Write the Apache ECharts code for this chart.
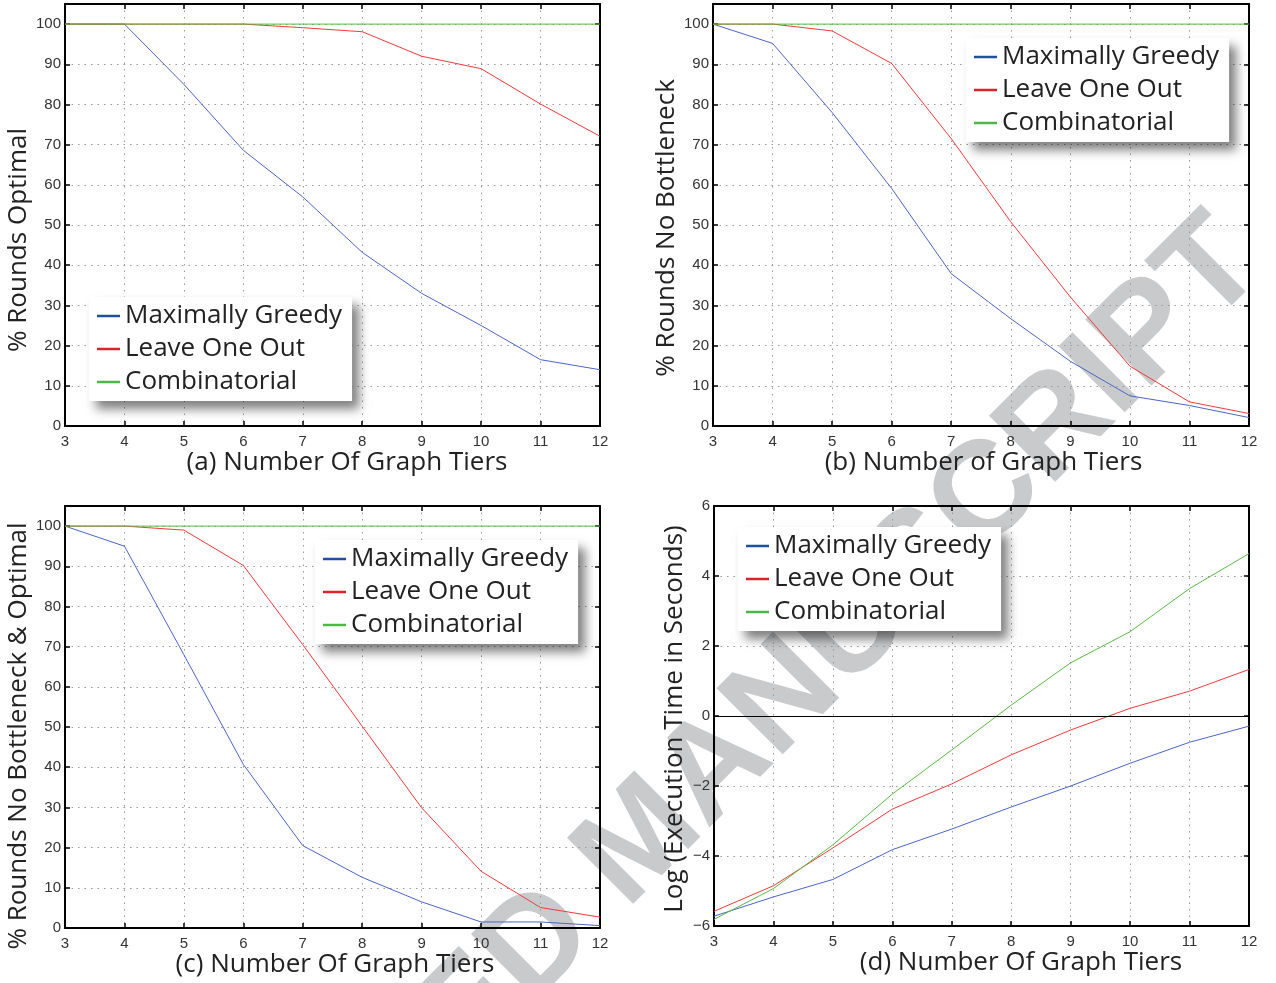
<!DOCTYPE html>
<html><head><meta charset="utf-8">
<script src="https://cdn.jsdelivr.net/npm/echarts@6/dist/echarts.min.js"></script>
<style>html,body{margin:0;padding:0;background:#fff}#c{width:1276px;height:983px}</style>
</head><body><div id="c"></div>
<script>
// ---- data ----
const tiers = [3, 4, 5, 6, 7, 8, 9, 10, 11, 12];
const seriesNames = ['Maximally Greedy', 'Leave One Out', 'Combinatorial'];

const optimalGreedy = [100, 100, 85, 68.6, 57, 43.2, 33, 25, 16.5, 14];
const optimalLeave  = [100, 100, 100, 100, 99.1, 98.1, 92, 88.9, 80.1, 72.1];
const optimalComb   = [100, 100, 100, 100, 100, 100, 100, 100, 100, 100];

const noBottleGreedy = [100, 95.2, 78, 59.1, 37.9, 26.7, 16.1, 7.5, 5.1, 2.1];
const noBottleLeave  = [100, 100, 98.3, 90.2, 71.5, 50.8, 32.1, 14.9, 6, 3.1];
const noBottleComb   = [100, 100, 100, 100, 100, 100, 100, 100, 100, 100];

const bothGreedy = [100, 95, 68, 40.7, 20.5, 12.6, 6.5, 1.5, 1.5, 0.6];
const bothLeave  = [100, 100, 99, 90.2, 70.5, 50.2, 29.9, 14.1, 5.1, 2.7];
const bothComb   = [100, 100, 100, 100, 100, 100, 100, 100, 100, 100];

const timeGreedy = [-5.72, -5.17, -4.67, -3.82, -3.23, -2.6, -2.0, -1.35, -0.75, -0.29];
const timeLeave  = [-5.58, -4.85, -3.77, -2.66, -1.94, -1.11, -0.4, 0.22, 0.71, 1.33];
const timeComb   = [-5.81, -4.93, -3.68, -2.23, -0.97, 0.31, 1.52, 2.41, 3.64, 4.64];

const xTitles = ['(a) Number Of Graph Tiers', '(b) Number of Graph Tiers', '(c) Number Of Graph Tiers', '(d) Number Of Graph Tiers'];
const yTitles = ['% Rounds Optimal', '% Rounds No Bottleneck', '% Rounds No Bottleneck & Optimal', 'Log (Execution Time in Seconds)'];
const watermark = 'ACCEPTED MANUSCRIPT';

// ---- layout / style ----
const panelData = [
  [optimalGreedy, optimalLeave, optimalComb],
  [noBottleGreedy, noBottleLeave, noBottleComb],
  [bothGreedy, bothLeave, bothComb],
  [timeGreedy, timeLeave, timeComb]
];
const grids = [
  {left: 65, top: 4, width: 535, height: 422},
  {left: 713, top: 4, width: 536, height: 422},
  {left: 65, top: 506, width: 535, height: 422},
  {left: 714, top: 506, width: 535, height: 420}
];
const yRanges = [
  {min: 0, max: 105, interval: 10},
  {min: 0, max: 105, interval: 10},
  {min: 0, max: 105, interval: 10},
  {min: -6, max: 6, interval: 2}
];
const xNamePad = [29, 5, 5, 79];
const yNamePad = [50, 26, 38, 6];
const yNameGap = [30, 30, 30, 26];
const legendPos = [
  {left: 89, top: 297},
  {left: 966, top: 38},
  {left: 315, top: 540},
  {left: 738, top: 527}
];
const lineColors = ['#4a66c6', '#f03a3a', '#58bb44'];
const iconColors = ['#1f4f9f', '#d9232a', '#4db848'];
const titleFont = 'Open Sans';
const tickFont = 'Liberation Sans';

const xAxes = [], yAxes = [], series = [], legends = [];
const gridCfg = grids.map(g => Object.assign({containLabel: false}, g));

for (let i = 0; i < 4; i++) {
  xAxes.push({
    type: 'value', gridIndex: i, min: 3, max: 12, interval: 1, position: 'bottom',
    axisLine: {show: true, onZero: false, lineStyle: {color: '#000', width: 2}},
    axisTick: {show: true, inside: true, length: 5, lineStyle: {color: '#000', width: 1.5}},
    axisLabel: {margin: 8, color: '#333', fontSize: 15, fontFamily: tickFont},
    splitLine: {show: true, lineStyle: {color: '#999', type: [1.5, 5], width: 1}},
    name: xTitles[i], nameLocation: 'middle', nameGap: 24,
    nameTextStyle: {fontFamily: titleFont, fontSize: 26, color: '#222', padding: [0, 0, 0, xNamePad[i]]}
  });
  const r = yRanges[i];
  yAxes.push({
    type: 'value', gridIndex: i, min: r.min, max: r.max, interval: r.interval, position: 'left',
    axisLine: {show: true, onZero: false, lineStyle: {color: '#000', width: 2}},
    axisTick: {show: true, inside: true, length: 5, lineStyle: {color: '#000', width: 1.5}},
    axisLabel: {margin: 4, color: '#333', fontSize: 15, fontFamily: tickFont,
      showMaxLabel: r.max !== 105,
      formatter: v => (v > 100 ? '' : String(v).replace('-', '\u2212'))},
    splitLine: {show: true, lineStyle: {color: '#999', type: [1.5, 5], width: 1}},
    name: yTitles[i], nameLocation: 'middle', nameGap: yNameGap[i],
    nameTextStyle: {fontFamily: titleFont, fontSize: 26, color: '#222', padding: [0, yNamePad[i], 0, 0]}
  });
}
for (let i = 0; i < 4; i++) {
  xAxes.push({
    type: 'value', gridIndex: i, min: 3, max: 12, interval: 1, position: 'top',
    axisLine: {show: true, onZero: false, lineStyle: {color: '#000', width: 2}},
    axisTick: {show: true, inside: true, length: 5, lineStyle: {color: '#000', width: 1.5}},
    axisLabel: {show: false}, splitLine: {show: false}
  });
  const r = yRanges[i];
  yAxes.push({
    type: 'value', gridIndex: i, min: r.min, max: r.max, interval: r.interval, position: 'right',
    axisLine: {show: true, onZero: false, lineStyle: {color: '#000', width: 2}},
    axisTick: {show: true, inside: true, length: 5, lineStyle: {color: '#000', width: 1.5}},
    axisLabel: {show: false}, splitLine: {show: false}
  });
}

for (let i = 0; i < 4; i++) {
  panelData[i].forEach((arr, s) => {
    const ser = {
      type: 'line', name: seriesNames[s], xAxisIndex: i, yAxisIndex: i,
      data: tiers.map((t, k) => [t, arr[k]]),
      showSymbol: false, symbol: 'none', silent: true, animation: false,
      color: lineColors[s],
      lineStyle: {width: 1, color: lineColors[s]}
    };
    if (i === 3 && s === 0) {
      ser.markLine = {silent: true, symbol: 'none', label: {show: false},
        lineStyle: {color: '#000', type: 'solid', width: 1}, data: [{yAxis: 0}]};
    }
    series.push(ser);
  });
  legends.push({
    left: legendPos[i].left, top: legendPos[i].top, orient: 'vertical',
    selectedMode: false, backgroundColor: '#fff',
    padding: [4, 10, 4, 8], itemGap: 3, itemWidth: 23, itemHeight: 2.5,
    shadowColor: 'rgba(0,0,0,0.5)', shadowBlur: 10, shadowOffsetX: 7, shadowOffsetY: 8,
    textStyle: {fontFamily: titleFont, fontSize: 26, color: '#222', lineHeight: 30},
    data: seriesNames.map((n, s) => ({name: n, icon: 'rect', itemStyle: {color: iconColors[s]}}))
  });
}

const chart = echarts.init(document.getElementById('c'), null, {renderer: 'canvas'});
chart.setOption({
  animation: false,
  backgroundColor: '#fff',
  grid: gridCfg,
  xAxis: xAxes,
  yAxis: yAxes,
  legend: legends,
  series: series,
  graphic: [{
    type: 'text', x: 643, y: 841, rotation: Math.PI / 4, z: -10, silent: true,
    style: {text: watermark, font: 'bold 136px "Liberation Sans"', fill: '#c9cacc',
      align: 'center', verticalAlign: 'middle'}
  }]
});
</script></body></html>
